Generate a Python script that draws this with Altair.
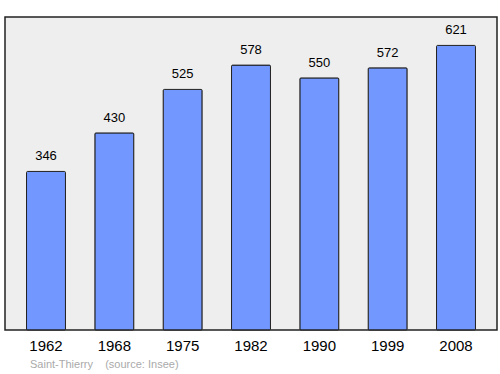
import altair as alt
import pandas as pd

years = ["1962", "1968", "1975", "1982", "1990", "1999", "2008"]
population = [346, 430, 525, 578, 550, 572, 621]
footer = ["Saint-Thierry\u00a0\u00a0\u00a0\u00a0(source: Insee)"]

df = pd.DataFrame({"year": years, "pop": population})
fdf = pd.DataFrame({"t": footer})

x = alt.X("year:N", sort=years, title=None,
          scale=alt.Scale(paddingInner=0.43, paddingOuter=0.315),
          axis=alt.Axis(labelAngle=0, labelFontSize=15, labelFont="Liberation Sans",
                        labelColor="#000", domain=False, ticks=False, labelPadding=8))
y = alt.Y("pop:Q", scale=alt.Scale(domain=[0, 683], nice=False), axis=None)

bars = alt.Chart(df).mark_bar(color="#7298ff", stroke="#222", strokeWidth=1,
                              cornerRadius=1).encode(x=x, y=y)
labels = alt.Chart(df).mark_text(baseline="bottom", dy=-8, fontSize=13,
                                 font="Liberation Sans", color="#000").encode(
    x=x, y=y, text="pop:Q")
foot = alt.Chart(fdf).mark_text(align="left", baseline="middle", fontSize=11,
                                font="Liberation Sans", color="#aaaaaa").encode(
    x=alt.value(25), y=alt.value(348), text="t:N")

chart = alt.layer(bars, labels, foot).properties(
    width=492, height=313,
    padding={"left": 5, "top": 17, "right": 3, "bottom": 44},
    autosize=alt.AutoSizeParams(type="none"),
    background="white",
).configure_view(fill="#eeeeee", stroke="#222", strokeWidth=1.5)

chart.save("out.html", embed_options={"renderer": "svg", "actions": False})
